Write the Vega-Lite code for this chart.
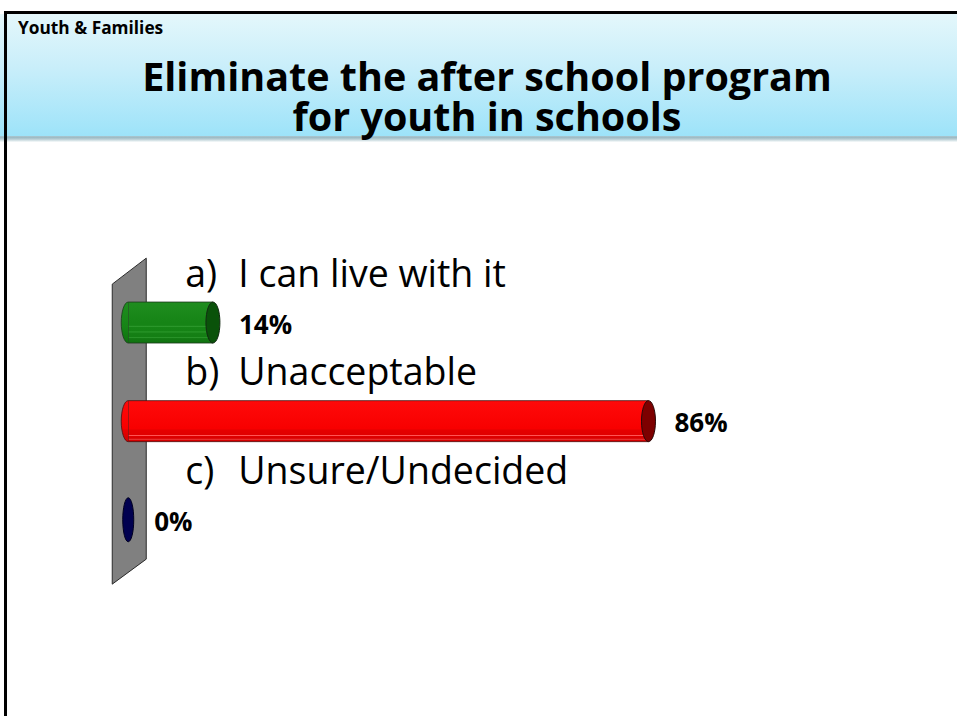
{
  "$schema": "https://vega.github.io/schema/vega-lite/v6.json",
  "width": 957,
  "height": 721,
  "autosize": {"type": "none"},
  "padding": 0,
  "background": "#ffffff",
  "config": {"view": {"stroke": null}, "axis": {"disable": true}, "text": {"font": "Open Sans"}},
  "data": {"values": [
    {"letter": "a)", "answer": "I can live with it", "pct": 0.14, "rank": 1},
    {"letter": "b)", "answer": "Unacceptable", "pct": 0.86, "rank": 2},
    {"letter": "c)", "answer": "Unsure/Undecided", "pct": 0.0, "rank": 3}
  ]},
  "layer": [
    {
      "data": {"values": [{}]},
      "mark": {"type": "rect", "color": {"gradient": "linear", "x1": 0, "y1": 0, "x2": 0, "y2": 1, "stops": [
        {"offset": 0, "color": "#e4f7fb"}, {"offset": 0.45, "color": "#c8eefa"}, {"offset": 1, "color": "#9de3f9"}]}},
      "encoding": {
        "x": {"datum": -0.212, "type": "quantitative", "axis": null, "scale": {"domain": [-0.212, 1.37], "range": [0, 957], "nice": false, "zero": false}},
        "x2": {"datum": 1.37},
        "y": {"datum": -2.13, "type": "quantitative", "axis": null, "scale": {"domain": [-2.22, 4.99], "range": [0, 721], "nice": false, "zero": false}},
        "y2": {"datum": -0.89}
      }
    },
    {
      "data": {"values": [{}]},
      "mark": {"type": "rect", "color": {"gradient": "linear", "x1": 0, "y1": 0, "x2": 0, "y2": 1, "stops": [
        {"offset": 0, "color": "#8caeb9"}, {"offset": 0.5, "color": "#b5ccd3"}, {"offset": 1, "color": "#fbfdfd"}]}},
      "encoding": {
        "x": {"datum": -0.212, "type": "quantitative", "axis": null, "scale": {"domain": [-0.212, 1.37], "range": [0, 957], "nice": false, "zero": false}},
        "x2": {"datum": 1.37},
        "y": {"datum": -0.89, "type": "quantitative", "axis": null, "scale": {"domain": [-2.22, 4.99], "range": [0, 721], "nice": false, "zero": false}},
        "y2": {"datum": -0.83}
      }
    },
    {
      "data": {"values": [{}]},
      "mark": {"type": "rule", "color": "#000000", "strokeWidth": 3},
      "encoding": {
        "x": {"datum": -0.2054, "type": "quantitative", "axis": null, "scale": {"domain": [-0.212, 1.37], "range": [0, 957], "nice": false, "zero": false}},
        "x2": {"datum": 1.37},
        "y": {"datum": -2.145, "type": "quantitative", "axis": null, "scale": {"domain": [-2.22, 4.99], "range": [0, 721], "nice": false, "zero": false}}
      }
    },
    {
      "data": {"values": [{}]},
      "mark": {"type": "rule", "color": "#000000", "strokeWidth": 3},
      "encoding": {
        "x": {"datum": -0.2029, "type": "quantitative", "axis": null, "scale": {"domain": [-0.212, 1.37], "range": [0, 957], "nice": false, "zero": false}},
        "y": {"datum": -2.16, "type": "quantitative", "axis": null, "scale": {"domain": [-2.22, 4.99], "range": [0, 721], "nice": false, "zero": false}},
        "y2": {"datum": 4.99}
      }
    },
    {
      "data": {"values": [{}]},
      "mark": {"type": "text", "text": "Youth & Families", "font": "Open Sans", "fontWeight": "bold", "fontSize": 17.3, "align": "left", "baseline": "alphabetic", "color": "#000000"},
      "encoding": {
        "x": {"datum": -0.1822, "type": "quantitative", "axis": null, "scale": {"domain": [-0.212, 1.37], "range": [0, 957], "nice": false, "zero": false}},
        "y": {"datum": -1.927, "type": "quantitative", "axis": null, "scale": {"domain": [-2.22, 4.99], "range": [0, 721], "nice": false, "zero": false}}
      }
    },
    {
      "data": {"values": [{}]},
      "mark": {"type": "text", "text": ["Eliminate the after school program", "for youth in schools"], "font": "Open Sans", "fontWeight": "bold", "fontSize": 39.5, "lineHeight": 40, "align": "center", "baseline": "alphabetic", "color": "#000000"},
      "encoding": {
        "x": {"datum": 0.593, "type": "quantitative", "axis": null, "scale": {"domain": [-0.212, 1.37], "range": [0, 957], "nice": false, "zero": false}},
        "y": {"datum": -1.35, "type": "quantitative", "axis": null, "scale": {"domain": [-2.22, 4.99], "range": [0, 721], "nice": false, "zero": false}}
      }
    },
    {
      "data": {"values": [{}]},
      "mark": {"type": "point", "shape": "M-16,-137L18,-163L18,138L-16,163Z", "size": 4, "filled": true, "fill": "#808080", "stroke": "#2a2a2a", "strokeWidth": 1, "opacity": 1},
      "encoding": {
        "x": {"datum": 0, "type": "quantitative", "axis": null, "scale": {"domain": [-0.212, 1.37], "range": [0, 957], "nice": false, "zero": false}},
        "y": {"datum": 2, "type": "quantitative", "axis": null, "scale": {"domain": [-2.22, 4.99], "range": [0, 721], "nice": false, "zero": false}}
      }
    },
    {
      "transform": [{"filter": "datum.letter === 'a)'"}],
      "mark": {"type": "bar", "orient": "horizontal", "height": 41, "stroke": "#1c3a1c", "strokeWidth": 0.8, "color": {"gradient": "linear", "x1": 0, "y1": 0, "x2": 0, "y2": 1, "stops": [
        {"offset": 0, "color": "#1f8d1f"}, {"offset": 0.5, "color": "#168416"}, {"offset": 0.57, "color": "#168416"}, {"offset": 0.59, "color": "#35a035"}, {"offset": 0.61, "color": "#168416"},
        {"offset": 0.71, "color": "#158215"}, {"offset": 0.73, "color": "#33a033"}, {"offset": 0.75, "color": "#158015"},
        {"offset": 0.85, "color": "#147e14"}, {"offset": 0.87, "color": "#2f982f"}, {"offset": 0.89, "color": "#137a13"}, {"offset": 1, "color": "#0f720f"}]}},
      "encoding": {
        "x": {"field": "pct", "type": "quantitative", "axis": null, "scale": {"domain": [-0.212, 1.37], "range": [0, 957], "nice": false, "zero": false}},
        "x2": {"datum": 0},
        "y": {"field": "rank", "type": "quantitative", "axis": null, "scale": {"domain": [-2.22, 4.99], "range": [0, 721], "nice": false, "zero": false}}
      }
    },
    {
      "transform": [{"filter": "datum.letter === 'a)'"}],
      "mark": {"type": "point", "shape": "M0,-20.5A7,20.5 0 0,0 0,20.5", "size": 4, "filled": true, "opacity": 1, "stroke": "#1c3a1c", "strokeWidth": 0.8, "fill": {"gradient": "linear", "x1": 0, "y1": 0, "x2": 0, "y2": 1, "stops": [
        {"offset": 0, "color": "#1f8d1f"}, {"offset": 0.6, "color": "#168416"}, {"offset": 1, "color": "#0f720f"}]}},
      "encoding": {
        "x": {"datum": 0, "type": "quantitative", "axis": null, "scale": {"domain": [-0.212, 1.37], "range": [0, 957], "nice": false, "zero": false}},
        "y": {"field": "rank", "type": "quantitative", "axis": null, "scale": {"domain": [-2.22, 4.99], "range": [0, 721], "nice": false, "zero": false}}
      }
    },
    {
      "transform": [{"filter": "datum.letter === 'a)'"}],
      "mark": {"type": "point", "shape": "M0,-20.5A7,20.5 0 1,1 0,20.5A7,20.5 0 1,1 0,-20.5Z", "size": 4, "filled": true, "opacity": 1, "fill": "#0a520a", "stroke": "#132a13", "strokeWidth": 1},
      "encoding": {
        "x": {"field": "pct", "type": "quantitative", "axis": null, "scale": {"domain": [-0.212, 1.37], "range": [0, 957], "nice": false, "zero": false}},
        "y": {"field": "rank", "type": "quantitative", "axis": null, "scale": {"domain": [-2.22, 4.99], "range": [0, 721], "nice": false, "zero": false}}
      }
    },
    {
      "transform": [{"filter": "datum.letter === 'b)'"}],
      "mark": {"type": "bar", "orient": "horizontal", "height": 41, "stroke": "#4a1010", "strokeWidth": 0.8, "color": {"gradient": "linear", "x1": 0, "y1": 0, "x2": 0, "y2": 1, "stops": [
        {"offset": 0, "color": "#ff0a0a"}, {"offset": 0.68, "color": "#f80000"}, {"offset": 0.72, "color": "#e60000"},
        {"offset": 0.83, "color": "#e00000"}, {"offset": 0.85, "color": "#ff5555"}, {"offset": 0.87, "color": "#de0000"},
        {"offset": 0.92, "color": "#db0000"}, {"offset": 0.94, "color": "#f24a4a"}, {"offset": 0.96, "color": "#d60000"}, {"offset": 1, "color": "#d00000"}]}},
      "encoding": {
        "x": {"field": "pct", "type": "quantitative", "axis": null, "scale": {"domain": [-0.212, 1.37], "range": [0, 957], "nice": false, "zero": false}},
        "x2": {"datum": 0},
        "y": {"field": "rank", "type": "quantitative", "axis": null, "scale": {"domain": [-2.22, 4.99], "range": [0, 721], "nice": false, "zero": false}}
      }
    },
    {
      "transform": [{"filter": "datum.letter === 'b)'"}],
      "mark": {"type": "point", "shape": "M0,-20.5A7,20.5 0 0,0 0,20.5", "size": 4, "filled": true, "opacity": 1, "stroke": "#4a1010", "strokeWidth": 0.8, "fill": {"gradient": "linear", "x1": 0, "y1": 0, "x2": 0, "y2": 1, "stops": [
        {"offset": 0, "color": "#ff0a0a"}, {"offset": 0.68, "color": "#f80000"}, {"offset": 0.72, "color": "#e60000"}, {"offset": 1, "color": "#d00000"}]}},
      "encoding": {
        "x": {"datum": 0, "type": "quantitative", "axis": null, "scale": {"domain": [-0.212, 1.37], "range": [0, 957], "nice": false, "zero": false}},
        "y": {"field": "rank", "type": "quantitative", "axis": null, "scale": {"domain": [-2.22, 4.99], "range": [0, 721], "nice": false, "zero": false}}
      }
    },
    {
      "transform": [{"filter": "datum.letter === 'b)'"}],
      "mark": {"type": "point", "shape": "M0,-20.5A7,20.5 0 1,1 0,20.5A7,20.5 0 1,1 0,-20.5Z", "size": 4, "filled": true, "opacity": 1, "fill": "#7d0000", "stroke": "#2a0a0a", "strokeWidth": 1},
      "encoding": {
        "x": {"field": "pct", "type": "quantitative", "axis": null, "scale": {"domain": [-0.212, 1.37], "range": [0, 957], "nice": false, "zero": false}},
        "y": {"field": "rank", "type": "quantitative", "axis": null, "scale": {"domain": [-2.22, 4.99], "range": [0, 721], "nice": false, "zero": false}}
      }
    },
    {
      "transform": [{"filter": "datum.letter === 'c)'"}],
      "mark": {"type": "point", "shape": "M0,-22A5.5,22 0 1,1 0,22A5.5,22 0 1,1 0,-22Z", "size": 4, "filled": true, "opacity": 1, "fill": "#000050", "stroke": "#000020", "strokeWidth": 1},
      "encoding": {
        "x": {"field": "pct", "type": "quantitative", "axis": null, "scale": {"domain": [-0.212, 1.37], "range": [0, 957], "nice": false, "zero": false}},
        "y": {"field": "rank", "type": "quantitative", "axis": null, "scale": {"domain": [-2.22, 4.99], "range": [0, 721], "nice": false, "zero": false}}
      }
    },
    {
      "mark": {"type": "text", "font": "Open Sans", "fontSize": 37.5, "align": "left", "baseline": "alphabetic", "dx": 57, "dy": -36, "color": "#000000"},
      "encoding": {
        "x": {"datum": 0, "type": "quantitative", "axis": null, "scale": {"domain": [-0.212, 1.37], "range": [0, 957], "nice": false, "zero": false}},
        "y": {"field": "rank", "type": "quantitative", "axis": null, "scale": {"domain": [-2.22, 4.99], "range": [0, 721], "nice": false, "zero": false}},
        "text": {"field": "letter"}
      }
    },
    {
      "mark": {"type": "text", "font": "Open Sans", "fontSize": 37.5, "align": "left", "baseline": "alphabetic", "dx": 110, "dy": -36, "color": "#000000"},
      "encoding": {
        "x": {"datum": 0, "type": "quantitative", "axis": null, "scale": {"domain": [-0.212, 1.37], "range": [0, 957], "nice": false, "zero": false}},
        "y": {"field": "rank", "type": "quantitative", "axis": null, "scale": {"domain": [-2.22, 4.99], "range": [0, 721], "nice": false, "zero": false}},
        "text": {"field": "answer"}
      }
    },
    {
      "mark": {"type": "text", "font": "Open Sans", "fontSize": 26, "fontWeight": "bold", "align": "left", "baseline": "alphabetic", "dx": 26, "dy": 11, "color": "#000000"},
      "encoding": {
        "x": {"field": "pct", "type": "quantitative", "axis": null, "scale": {"domain": [-0.212, 1.37], "range": [0, 957], "nice": false, "zero": false}},
        "y": {"field": "rank", "type": "quantitative", "axis": null, "scale": {"domain": [-2.22, 4.99], "range": [0, 721], "nice": false, "zero": false}},
        "text": {"field": "pct", "type": "quantitative", "format": ".0%"}
      }
    }
  ]
}
